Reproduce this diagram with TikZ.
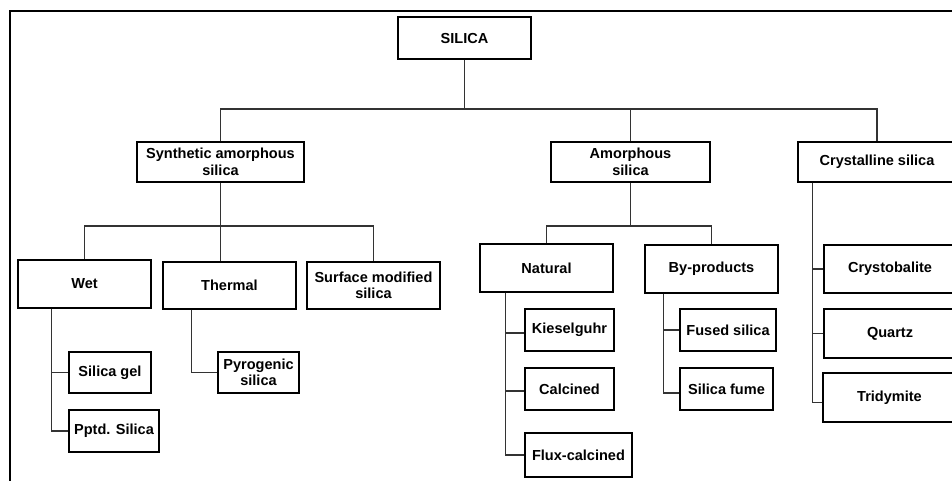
\documentclass[tikz,border=0pt]{standalone}
\usepackage{fontspec}
\setmainfont{Liberation Sans}
\begin{document}
\begin{tikzpicture}[x=0.75pt,y=-0.75pt,
  box/.style={draw=black, line width=0.8pt, align=center, inner sep=0pt,
    font=\fontsize{10.9}{12.4}\selectfont\bfseries},
  conn/.style={draw=black!80, line width=0.8pt},
  frame/.style={draw=black, line width=1.7pt}]
\useasboundingbox (0,0) rectangle (952,481);
\clip (0,0) rectangle (952,481);
% outer frame
\coordinate (fbl) at (10.3,490);
\coordinate (ftl) at (10.3,11);
\coordinate (ftr) at (970,11);
\draw[frame] (fbl) -- (ftl) -- (ftr);
% level 0
\node[box, minimum width=99.75pt, minimum height=31.5pt] (silica) at (464.5,38) {SILICA};
% level 1
\node[box, minimum width=125.25pt, minimum height=30pt] (syn) at (220.5,162) {Synthetic amorphous\\silica};
\node[box, minimum width=119.25pt, minimum height=30pt] (amo) at (630.5,162) {Amorphous\\silica};
\node[box, minimum width=118.5pt, minimum height=30pt] (cry) at (877,162) {Crystalline silica};
% level 2
\node[box, minimum width=99.75pt, minimum height=36pt] (wet) at (84.5,284) {Wet};
\node[box, minimum width=99.75pt, minimum height=35.25pt] (therm) at (229.5,285.5) {Thermal};
\node[box, minimum width=99.75pt, minimum height=35.25pt] (surf) at (373.5,285.5) {Surface modified\\silica};
\node[box, minimum width=99.75pt, minimum height=36pt] (nat) at (546.5,268) {Natural};
\node[box, minimum width=99.75pt, minimum height=36pt] (byp) at (711.5,269) {By-products};
% level 3
\node[box, minimum width=61.5pt, minimum height=30.75pt] (gel) at (110,372.5) {Silica gel};
\node[box, minimum width=67.5pt, minimum height=31.5pt] (pptd) at (114,431) {Pptd. Silica};
\node[box, minimum width=60.75pt, minimum height=30.75pt] (pyro) at (258.5,372.5) {Pyrogenic\\silica};
\node[box, minimum width=66.75pt, minimum height=31.5pt] (kies) at (569.5,330) {Kieselguhr};
\node[box, minimum width=66.75pt, minimum height=31.5pt] (calc) at (569.5,389) {Calcined};
\node[box, minimum width=80.25pt, minimum height=33pt] (flux) at (578.5,455) {Flux-calcined};
\node[box, minimum width=72pt, minimum height=31.5pt] (fused) at (728,330) {Fused silica};
\node[box, minimum width=69.75pt, minimum height=31.5pt] (fume) at (726.5,389) {Silica fume};
\node[box, minimum width=99pt, minimum height=36pt] (crys) at (890,269) {Crystobalite};
\node[box, minimum width=99pt, minimum height=36.75pt] (quartz) at (890,333.5) {Quartz};
\node[box, minimum width=99.75pt, minimum height=36.75pt] (trid) at (889.5,397.5) {Tridymite};
% bus coordinates
\coordinate (b1) at (0,109);
\coordinate (b2) at (0,226);
% connectors level 0-1
\draw[conn] (silica.south) -- (silica.south |- b1);
\draw[conn] (syn.north) |- (silica.south |- b1) -| (cry.north);
\draw[conn] (amo.north) -- (amo.north |- b1);
% synthetic subtree
\draw[conn] (syn.south) -- (syn.south |- therm.north);
\draw[conn] (wet.north) |- (syn.south |- b2) -| (surf.north);
% amorphous subtree
\draw[conn] (amo.south) -- (amo.south |- b2);
\draw[conn] (nat.north) |- (amo.south |- b2) -| (byp.north);
% wet children
\coordinate (wv) at ([xshift=25.5pt]wet.south west);
\draw[conn] (wv) |- (gel.west);
\draw[conn] (wv) |- (pptd.west);
% thermal child
\coordinate (tv) at ([xshift=21.75pt]therm.south west);
\draw[conn] (tv) |- (pyro.west);
% natural children
\coordinate (nv) at ([xshift=19.5pt]nat.south west);
\draw[conn] (nv) |- ([yshift=-2.25pt]kies.west);
\draw[conn] (nv) |- ([yshift=-1.5pt]calc.west);
\draw[conn] (nv) |- (flux.west);
% by-products children
\coordinate (bv) at ([xshift=14.25pt]byp.south west);
\draw[conn] (bv) |- (fused.west);
\draw[conn] (bv) |- ([yshift=-3pt]fume.west);
% crystalline children
\coordinate (cv) at ([xshift=11.25pt]cry.south west);
\draw[conn] (cv) |- (crys.west);
\draw[conn] (cv) |- (quartz.west);
\draw[conn] (cv) |- ([yshift=-3.4pt]trid.west);
\end{tikzpicture}
\end{document}
